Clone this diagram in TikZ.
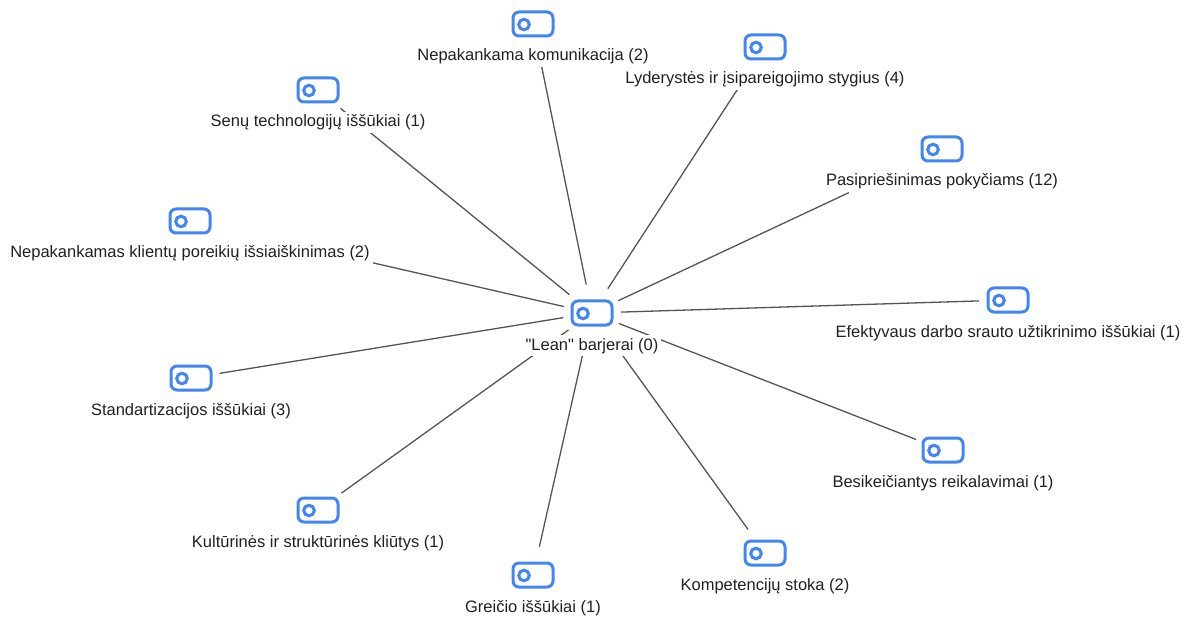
\documentclass[tikz,border=0pt]{standalone}
\usepackage{fontspec}
% plain family: no TeX ligature mapping, so " stays a straight quote
\newfontfamily\labelfont{Liberation Sans}
\usetikzlibrary{backgrounds}
\definecolor{tagblue}{RGB}{66,133,244}
\definecolor{linkgray}{RGB}{85,85,85}
\definecolor{ink}{RGB}{33,33,33}
\begin{document}
\begin{tikzpicture}[x=1pt,y=-1pt,
  hub/.style={circle, minimum size=58pt, inner sep=0pt, outer sep=0pt},
  tagline/.style={draw=tagblue, line width=3pt},
  link/.style={draw=linkgray, line width=1.3pt},
  caption/.style={fill=white, inner sep=3pt, anchor=base, text=ink,
    font=\labelfont\fontsize{16.5}{19}\selectfont},
]
\useasboundingbox (0,0) rectangle (1198,617);

% tag icons: invisible round hubs with the tag glyph drawn on top
\foreach \n/\x/\y in {c/592/313, kom/533/24, lyd/765/47, sen/318/90,
    pas/942/149, kli/190/221, efe/1008/300, sta/191/378, bes/943/450,
    kul/318/510, gre/533/575, kmp/765/553} {
  \node[hub] (\n) at (\x,\y) {};
  \draw[tagline, rounded corners=6pt] (\x-20,\y-12) rectangle (\x+20,\y+12);
  \draw[tagline] (\x-9,\y+0.5) circle[radius=5.3];
}

% captions (white boxes hide the spoke ends)
\node[caption] (cL)   at (592,350) {"Lean" barjerai (0)};
\node[caption] (komL) at (533,61)  {Nepakankama komunikacija (2)};
\node[caption] (lydL) at (765,84)  {Lyderystės ir įsipareigojimo stygius (4)};
\node[caption] (senL) at (318,127) {Senų technologijų iššūkiai (1)};
\node[caption] (pasL) at (942,186) {Pasipriešinimas pokyčiams (12)};
\node[caption] (kliL) at (190,258) {Nepakankamas klientų poreikių išsiaiškinimas (2)};
\node[caption] (efeL) at (1008,337) {Efektyvaus darbo srauto užtikrinimo iššūkiai (1)};
\node[caption] (staL) at (191,415) {Standartizacijos iššūkiai (3)};
\node[caption] (besL) at (943,487) {Besikeičiantys reikalavimai (1)};
\node[caption] (kulL) at (318,547) {Kultūrinės ir struktūrinės kliūtys (1)};
\node[caption] (greL) at (533,612) {Greičio iššūkiai (1)};
\node[caption] (kmpL) at (765,590) {Kompetencijų stoka (2)};

% spokes that stop where they first meet a caption
\coordinate (kliEnd) at (intersection of c--kli and kliL.north east--kliL.south east);
\coordinate (pasEnd) at (intersection of c--pas and pasL.south west--pasL.south east);

% page ground and spokes from the central node, kept behind the captions
\begin{scope}[on background layer]
  \fill[white] (0,0) rectangle (1198,617);
  \foreach \n in {kom,lyd,sen,efe,sta,bes,kul,gre,kmp}
    \draw[link] (c) -- (\n);
  \draw[link] (c) -- (kliEnd);
  \draw[link] (c) -- (pasEnd);
\end{scope}
\end{tikzpicture}
\end{document}
